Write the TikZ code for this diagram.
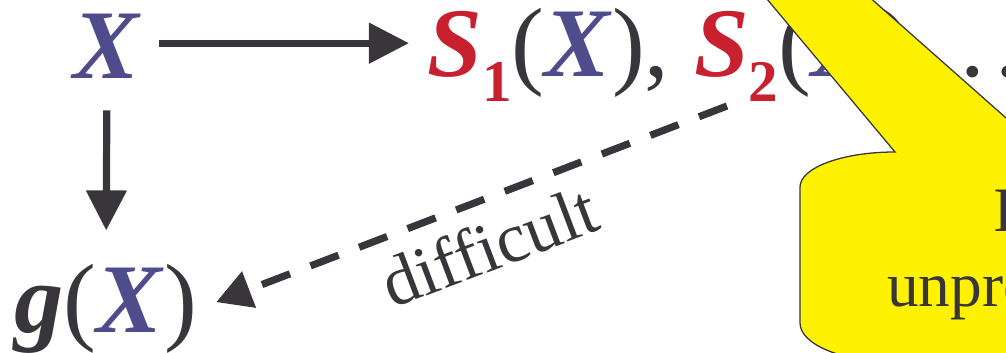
\documentclass[tikz,border=0pt]{standalone}
\usepackage{fontspec}
\setmainfont{Liberation Serif}
\usepackage{xcolor}
\usetikzlibrary{arrows.meta, positioning}

\definecolor{ink}{HTML}{38363B}
\definecolor{xblue}{HTML}{4F4C8C}
\definecolor{sred}{HTML}{C8202F}
\definecolor{callout}{HTML}{FFF200}

\newcommand{\rv}[1]{{\color{xblue}\textbf{\textit{#1}}}}
\newcommand{\sv}[2]{{\color{sred}\textbf{\textit{#1}}\raisebox{-0.25em}{\fontsize{42}{42}\selectfont\bfseries #2}}}

\begin{document}
\begin{tikzpicture}[x=0.025cm, y=0.025cm,
        big/.style={inner sep=0pt, text=ink, font=\fontsize{70}{84}\selectfont},
        small/.style={inner sep=0pt, text=ink, font=\fontsize{45}{54}\selectfont},
        arrow/.style={-{Triangle[length=1cm, width=0.98cm]}, line width=0.18cm, draw=ink}
        ]
        \useasboundingbox (0,0) rectangle (1006,353);
        \node[big, anchor=base] (x) at (107,274) {\rv{X}};
        \node[big, anchor=base west] (s) at (427,276) {\sv{S}{1}(\rv{X}), \sv{S}{2}(\rv{X}), .\kern.1em.\kern.1em.};
        \node[big, anchor=base] (gx) at (106,20) {\textbf{\textit{g}}(\rv{X})};
        \coordinate (from) at (727,247);

        \draw[arrow, shorten <=0.45cm, shorten >=0.45cm] ([yshift=0.09cm]x.east) -- ([yshift=0.09cm]x.east -| s.west);
        \draw[arrow, shorten <=0.78cm, shorten >=0.85cm] (x.south) -- (gx.north);
        \draw[arrow, dash pattern=on 0.75cm off 0.55cm, shorten >=0.5cm, -{Triangle[length=0.88cm, width=0.93cm]}] (from) -- (gx.east);
        \node[small, font=\fontsize{50}{60}\selectfont, rotate=20.7] (lbl) at (489,107) {difficult};

        % callout over the row
        \draw[fill=callout, draw=ink, line width=0.9pt] (895,201) -- (751,373) -- (850,373) -- (1040,205) -- (1040,-9) -- (895,-9)
            arc[start angle=270, end angle=180, x radius=95, y radius=39] -- (800,166)
            arc[start angle=180, end angle=90, x radius=95, y radius=35] -- cycle;
        \node[small, anchor=base west] (t1) at (993,121) {I};
        \node[small, anchor=base west] (t2) at (887,46) {unpre};
\end{tikzpicture}
\end{document}
